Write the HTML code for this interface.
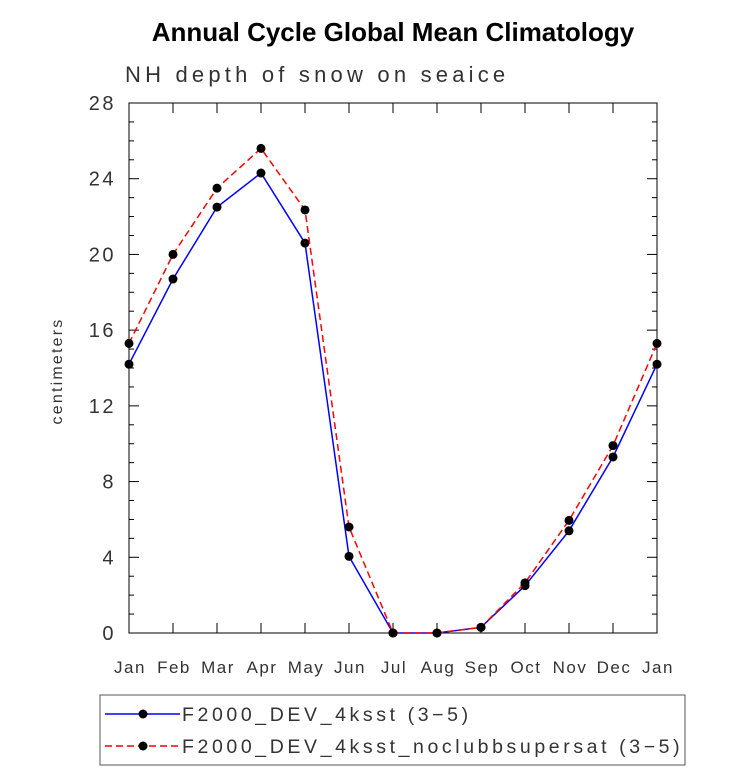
<!DOCTYPE html>
<html><head><meta charset="utf-8"><style>
body{margin:0;background:#fff;}
svg{display:block;font-family:"Liberation Sans",sans-serif;}
</style></head><body>
<svg id="chart" width="733" height="771">
<text x="393" y="41" text-anchor="middle" font-size="26" font-weight="bold">Annual Cycle Global Mean Climatology</text>
<text x="125" y="82" font-size="22" fill="#333" style="letter-spacing:4.2px">NH depth of snow on seaice</text>
<text transform="translate(62,371) rotate(-90)" text-anchor="middle" font-size="16" fill="#333" style="letter-spacing:2.2px">centimeters</text>
<g id="axes"></g>
<g id="series"></g>
<g>
<rect x="100" y="695" width="585" height="70" fill="none" stroke="#555" stroke-width="1"/>
<line x1="105" y1="714" x2="180" y2="714" stroke="#0000ff" stroke-width="1.5"/>
<circle cx="143" cy="714" r="4.5" fill="#000"/>
<text x="182" y="721" font-size="19.5" fill="#333" style="letter-spacing:3.6px">F2000_DEV_4ksst (3−5)</text>
<line x1="105" y1="746" x2="180" y2="746" stroke="#ff0000" stroke-width="1.5" stroke-dasharray="7,4"/>
<circle cx="143" cy="746" r="4.5" fill="#000"/>
<text x="182" y="753" font-size="19.5" fill="#333" style="letter-spacing:3.6px">F2000_DEV_4ksst_noclubbsupersat (3−5)</text>
</g>
</svg>
<script>
const months=["Jan","Feb","Mar","Apr","May","Jun","Jul","Aug","Sep","Oct","Nov","Dec","Jan"];
const blueVals=[14.2,18.7,22.5,24.3,20.6,4.05,0,0,0.3,2.5,5.4,9.3,14.2];
const redVals=[15.3,20.0,23.5,25.6,22.35,5.6,0,0,0.3,2.65,5.95,9.9,15.3];
const yTicks=[0,4,8,12,16,20,24,28];
const X0=129,X1=657,Y0=633,Y1=103,YMAX=28;
const xs=i=>X0+(X1-X0)*i/(months.length-1);
const ys=v=>Y0-(Y0-Y1)*v/YMAX;
const NS="http://www.w3.org/2000/svg";
const ax=document.getElementById('axes'),se=document.getElementById('series');
function mk(p,t,a){const e=document.createElementNS(NS,t);for(const k in a)e.setAttribute(k,a[k]);p.appendChild(e);return e;}
const frame=mk(ax,'rect',{x:X0,y:Y1,width:X1-X0,height:Y0-Y1,fill:'none',stroke:'#000','stroke-width':1});


for(let v=0;v<=YMAX;v++){const y=ys(v),L=v%4===0?10:5;
mk(ax,'line',{x1:X0,y1:y,x2:X0+L,y2:y,stroke:'#000'});
mk(ax,'line',{x1:X1,y1:y,x2:X1-L,y2:y,stroke:'#000'});}
yTicks.forEach(v=>{const t=mk(ax,'text',{x:X0-13,y:ys(v)+7,'text-anchor':'end','font-size':20,fill:'#333',style:'letter-spacing:2.5px'});t.textContent=v;

});
months.forEach((m,i)=>{const x=xs(i);
mk(ax,'line',{x1:x,y1:Y0,x2:x,y2:Y0-10,stroke:'#000'});
mk(ax,'line',{x1:x,y1:Y1,x2:x,y2:Y1+10,stroke:'#000'});
const t=mk(ax,'text',{x:x+1,y:Y0+40,'text-anchor':'middle','font-size':17,fill:'#333',style:'letter-spacing:1.5px'});t.textContent=m;

});
function series(vals,color,dash,name){
const pl=mk(se,'polyline',{points:vals.map((v,i)=>xs(i)+','+ys(v)).join(' '),fill:'none',stroke:color,'stroke-width':1.5,'stroke-dasharray':dash});


vals.forEach((v,i)=>{const c=mk(se,'circle',{cx:xs(i),cy:ys(v),r:4.5,fill:'#000'});

});}
series(blueVals,'#0000ff','none','blue-series');
series(redVals,'#ff0000','7,4','red-series');
</script>
</body></html>
